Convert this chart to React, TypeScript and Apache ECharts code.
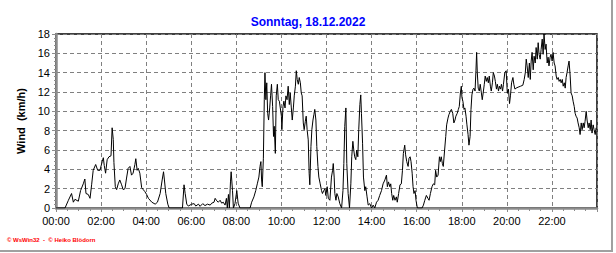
import React, { useEffect, useRef } from "react";
import * as echarts from "echarts";

const title = "Sonntag, 18.12.2022";
const yAxisName = "Wind  (km/h)";
const footer = "© WsWin32  -  © Heiko Blödorn";

// time in decimal hours
const times: number[] = [
  0.0, 0.4, 0.55, 0.69, 0.77, 0.84, 0.99, 1.09, 1.21, 1.28, 1.33, 1.43, 1.51, 1.58, 1.65, 1.76, 1.85, 1.95,
  2.05, 2.1, 2.14, 2.2, 2.27, 2.35, 2.44, 2.49, 2.54, 2.57, 2.63, 2.69, 2.76, 2.83, 2.91, 2.98, 3.06, 3.13,
  3.2, 3.28, 3.35, 3.42, 3.5, 3.54, 3.6, 3.65, 3.72, 3.8, 3.87, 3.94, 4.02,
  4.1, 4.25, 4.4, 4.5, 4.62, 4.71, 4.77, 4.81, 4.87, 4.96, 5.02, 5.61, 5.68, 5.73, 5.8, 5.87, 6.02, 6.13,
  6.2, 6.32, 6.39, 6.51, 6.61, 6.72, 6.84, 6.91, 7.01, 7.06, 7.13, 7.2, 7.28, 7.35, 7.42, 7.5, 7.56, 7.6,
  7.65, 7.69, 7.74, 7.77, 7.83, 7.87, 7.94, 8.02, 8.08, 8.16,
  8.61, 8.68, 8.78, 8.86, 8.93, 9.0, 9.05, 9.09, 9.12, 9.15, 9.2, 9.24, 9.27, 9.31, 9.35, 9.39, 9.43, 9.48,
  9.52, 9.56, 9.61, 9.65, 9.68, 9.73, 9.77, 9.82, 9.86, 9.91, 9.95, 10.0, 10.02, 10.07, 10.11, 10.16, 10.2,
  10.25, 10.3, 10.35, 10.39, 10.44, 10.48, 10.53, 10.57, 10.62, 10.66, 10.7, 10.75, 10.79, 10.84, 10.88,
  10.92, 10.97, 11.01, 11.06, 11.1, 11.14, 11.19, 11.23, 11.26, 11.31, 11.35, 11.4, 11.44, 11.48, 11.53,
  11.57, 11.62, 11.66, 11.72, 11.78, 11.82, 11.88, 11.93, 11.97, 12.03, 12.08, 12.15,
  12.22, 12.27, 12.3, 12.34, 12.37, 12.42, 12.46, 12.52, 12.59, 12.67, 12.73, 12.77, 12.81, 12.86, 12.9,
  12.96, 13.02, 13.08, 13.12, 13.17, 13.21, 13.25, 13.3, 13.34, 13.39, 13.43, 13.48, 13.52, 13.55, 13.6,
  13.64, 13.7, 13.74, 13.8, 13.85, 13.92, 14.0, 14.07, 14.14, 14.22, 14.29, 14.36, 14.44, 14.51, 14.59,
  14.66, 14.7, 14.75, 14.81, 14.85, 14.89, 14.94, 14.98, 15.04, 15.1, 15.14, 15.2, 15.26, 15.32, 15.37,
  15.41, 15.47, 15.51, 15.56, 15.62, 15.66, 15.71, 15.75, 15.8, 15.84, 15.88, 15.93, 15.97, 16.03,
  16.13, 16.24, 16.3, 16.36, 16.43, 16.5, 16.55, 16.61, 16.68, 16.74, 16.8, 16.84, 16.89, 16.95, 17.01,
  17.05, 17.09, 17.14, 17.18, 17.24, 17.29, 17.33, 17.39, 17.43, 17.49, 17.54, 17.6, 17.65, 17.7, 17.74,
  17.8, 17.85, 17.89, 17.94, 17.98, 18.01, 18.05, 18.1, 18.14, 18.19, 18.23, 18.28, 18.32, 18.37, 18.41,
  18.45, 18.5, 18.54, 18.59, 18.63, 18.66, 18.69, 18.73, 18.78, 18.82, 18.87, 18.91, 18.95, 19.0, 19.04,
  19.09, 19.13, 19.18, 19.22, 19.27, 19.31, 19.36, 19.4, 19.45, 19.49, 19.54, 19.58, 19.63, 19.67, 19.72,
  19.76, 19.81, 19.85, 19.91, 19.97, 20.02, 20.07, 20.12, 20.16, 20.21, 20.27,
  20.31, 20.36, 20.41, 20.5, 20.61, 20.71, 20.77, 20.82, 20.86, 20.9, 20.95, 21.0, 21.04, 21.08, 21.12,
  21.17, 21.21, 21.26, 21.3, 21.35, 21.39, 21.43, 21.48, 21.52, 21.57, 21.61, 21.65, 21.7, 21.74, 21.79,
  21.83, 21.87, 21.92, 21.96, 22.01, 22.05, 22.1, 22.14, 22.19, 22.23, 22.28, 22.32, 22.37, 22.41, 22.46,
  22.5, 22.55, 22.59, 22.63, 22.67, 22.72, 22.76, 22.81, 22.85, 22.9, 22.94, 22.99, 23.03, 23.07, 23.12,
  23.16, 23.21, 23.25, 23.3, 23.34, 23.39, 23.43, 23.47, 23.52, 23.56, 23.61, 23.65, 23.7, 23.74, 23.78,
  23.83, 23.87, 23.92, 23.96,
];

// wind speed in km/h
const windKmh: number[] = [
  0, 0, 0.8, 1.5, 0.6, 0.9, 0.7, 1.8, 2.5, 3.0, 1.5, 1.4, 1.0, 2.4, 3.9, 4.5, 3.9, 3.9,
  4.8, 5.2, 4.4, 3.6, 5.0, 5.3, 5.4, 8.3, 7.1, 4.7, 2.2, 1.9, 2.5, 2.9, 2.4, 1.9, 2.0, 3.1,
  4.1, 4.3, 3.4, 3.6, 4.5, 5.1, 3.9, 4.1, 3.6, 2.1, 1.9, 1.7, 1.4,
  1.0, 0.6, 0.4, 0.6, 1.5, 2.9, 3.75, 2.9, 1.5, 0.4, 0, 0, 2.4, 1.5, 0.4, 0.2, 0.4, 0.45,
  0.2, 0.4, 0.17, 0.45, 0.25, 0.4, 0.3, 0.5, 0.6, 1.0, 0.75, 0.6, 0.8, 0.5, 0.6, 0.3, 1.0, 0,
  1.4, 0, 2.7, 3.75, 1.8, 0, 0.45, 1.8, 0.5, 0,
  0, 0.6, 1.15, 1.8, 2.5, 3.2, 4.3, 4.8, 2.9, 2.2, 5.15, 11.2, 14.0, 11.2, 12.95, 9.8, 9.1, 10.35,
  11.6, 12.8, 10.5, 7.4, 8.45, 5.65, 11.6, 12.8, 11.2, 11.05, 10.35, 9.5, 8.1, 10.5, 11.05, 10.35, 11.6,
  11.2, 12.6, 10.7, 11.9, 10.35, 9.1, 10.35, 11.6, 12.6, 14.2, 13.3, 12.8, 13.5, 12.95, 11.9,
  11.6, 8.8, 8.1, 8.96, 9.5, 8.1, 7.05, 3.6, 2.4, 6.35, 8.1, 9.1, 9.65, 10.2, 9.1,
  6.35, 4.3, 3.2, 2.5, 1.8, 1.5, 1.8, 2.0, 1.3, 2.2, 1.0, 0.8,
  3.2, 3.9, 4.6, 3.2, 1.5, 0.8, 1.5, 1.15, 0.45, 0, 1.8, 4.6, 8.45, 10.35, 4.6,
  1.5, 0, 2.5, 5.3, 6.9, 6.0, 5.3, 5.0, 6.0, 5.3, 8.1, 10.7, 11.7, 9.8, 6.7,
  3.2, 1.8, 2.2, 1.15, 0.3, 0.45, 0, 0.3, 0, 0.6, 0.8, 1.3, 1.8, 2.5, 2.9,
  3.4, 2.2, 2.7, 2.2, 2.5, 1.5, 0.8, 1.3, 0.8, 1.15, 0.6, 1.5, 2.4, 2.5, 3.9,
  5.65, 6.5, 5.5, 4.8, 4.3, 5.15, 5.3, 4.8, 3.6, 2.2, 1.5, 1.8, 0.8, 0,
  0, 0, 0.3, 0.8, 1.3, 1.0, 0.8, 1.5, 2.2, 2.5, 2.4, 3.9, 3.2, 3.4, 5.3,
  4.8, 5.3, 4.6, 4.3, 6.0, 7.4, 8.6, 9.3, 9.65, 10.0, 10.2, 9.8, 8.8, 9.1, 9.5,
  9.8, 10.2, 10.5, 11.9, 12.6, 11.4, 11.05, 10.2, 10.35, 9.5, 8.6, 7.6, 6.5, 7.4, 10.2,
  11.7, 12.3, 12.4, 12.1, 14.2, 16.1, 14.0, 12.4, 12.1, 12.8, 11.9, 11.2, 11.9, 12.8, 13.65,
  13.1, 13.5, 12.95, 13.65, 12.6, 12.1, 12.95, 14.0, 13.65, 13.1, 12.3, 12.8, 12.1, 12.6, 12.3,
  12.8, 12.1, 12.8, 14.0, 14.2, 11.9, 12.3, 10.8, 11.6, 12.95, 13.5,
  12.8, 12.3, 12.4, 12.5, 12.6, 12.7, 13.3, 14.0, 15.4, 14.7, 13.5, 15.0, 13.3, 15.2, 16.1,
  14.3, 15.7, 15.0, 16.6, 15.4, 17.1, 15.9, 15.4, 16.4, 17.47, 15.9, 18.0, 16.4, 16.95, 15.0,
  15.6, 14.7, 15.6, 15.9, 15.2, 16.1, 15.0, 14.7, 13.65, 13.3, 13.5, 13.1, 13.3, 12.95, 13.3,
  12.6, 12.95, 12.4, 13.5, 14.0, 14.7, 15.2, 13.65, 11.9, 11.6, 11.05, 10.5, 9.8, 9.5, 9.3,
  8.8, 8.3, 7.6, 8.8, 8.1, 8.8, 8.3, 8.96, 10.0, 9.1, 8.3, 8.8, 8.1, 9.1, 7.75,
  8.6, 8.1, 7.6, 8.3,
];

const yMin = 0;
const yMax = 18;
const yStep = 2;
const xMin = 0;
const xMax = 24;
const xStep = 2;

const FONT = "'Liberation Sans', Arial, sans-serif";

export default function App() {
  const ref = useRef<HTMLDivElement>(null);

  useEffect(() => {
    if (!ref.current) return;
    const chart = echarts.init(ref.current, undefined, { renderer: "svg" });
    const data = times.map((t, i) => [t, windKmh[i]]);
    const pad = (n: number) => (n < 10 ? "0" + n : "" + n);

    chart.setOption({
      animation: false,
      backgroundColor: "#ffffff",
      title: {
        text: title,
        left: "center",
        top: 11,
        textStyle: { color: "#0000ff", fontSize: 12, fontWeight: "bold", fontFamily: FONT },
      },
      grid: {
        left: 56,
        right: 19,
        top: 34,
        bottom: 45,
        show: true,
        borderColor: "#000000",
        borderWidth: 1.5,
        backgroundColor: "transparent",
      },
      xAxis: {
        type: "value",
        min: xMin,
        max: xMax,
        interval: xStep,
        axisLine: { show: true, onZero: false, lineStyle: { color: "#8c8c8c", width: 2.5 } },
        axisTick: { show: true, length: 4, lineStyle: { color: "#8c8c8c", width: 1 } },
        minorTick: { show: true, splitNumber: 4, length: 3, lineStyle: { color: "#8c8c8c", width: 1 } },
        axisLabel: {
          showMaxLabel: false,
          margin: 7,
          color: "#000000",
          fontSize: 11,
          fontFamily: FONT,
          formatter: (v: number) => (v >= 24 ? "" : pad(Math.round(v)) + ":00"),
        },
        splitLine: { show: true, lineStyle: { color: "#808080", type: [4, 3], width: 1 } },
      },
      yAxis: {
        type: "value",
        min: yMin,
        max: yMax,
        interval: yStep,
        name: yAxisName,
        nameLocation: "middle",
        nameGap: 22,
        nameTextStyle: { color: "#000000", fontSize: 11, fontWeight: "bold", fontFamily: FONT },
        axisLine: { show: true, lineStyle: { color: "#8c8c8c", width: 2.5 } },
        axisTick: { show: true, length: 4, lineStyle: { color: "#8c8c8c", width: 1 } },
        minorTick: { show: true, splitNumber: 5, length: 2, lineStyle: { color: "#8c8c8c", width: 1 } },
        axisLabel: { margin: 6, color: "#000000", fontSize: 11, fontFamily: FONT },
        splitLine: { show: true, lineStyle: { color: "#808080", type: [4, 3], width: 1 } },
      },
      series: [
        {
          type: "line",
          data,
          showSymbol: false,
          symbol: "none",
          lineStyle: { color: "#000000", width: 1 },
          z: 5,
        },
      ],
      graphic: [
        {
          type: "text",
          left: 7,
          top: 237,
          style: { text: footer, fill: "#ff0000", fontSize: 6, fontFamily: FONT, fontWeight: "bold" },
        },
        {
          type: "rect",
          shape: { x: 611, y: 0, width: 2, height: 252 },
          style: { fill: "#a0a0a0" },
        },
        {
          type: "rect",
          shape: { x: 0, y: 250, width: 613, height: 2 },
          style: { fill: "#a0a0a0" },
        },
      ],
    });

    return () => chart.dispose();
  }, []);

  return (
    <div
      ref={ref}
      style={{ position: "absolute", left: 0, top: 0, width: 616, height: 253 }}
    />
  );
}
